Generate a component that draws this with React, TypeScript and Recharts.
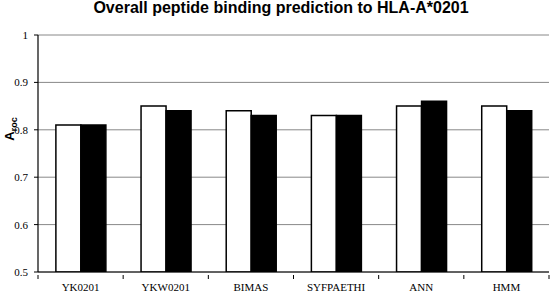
import { BarChart, Bar, XAxis, YAxis, CartesianGrid } from "recharts";

const categories = ["YK0201", "YKW0201", "BIMAS", "SYFPAETHI", "ANN", "HMM"];
const seriesOpen = [0.81, 0.85, 0.84, 0.83, 0.85, 0.85];
const seriesFilled = [0.81, 0.84, 0.83, 0.83, 0.86, 0.84];
const yTicks = [0.5, 0.6, 0.7, 0.8, 0.9, 1];

const W = 552;
const H = 294;
const LEFT = 38;
const RIGHT = 3;
const BAND = (W - LEFT - RIGHT) / categories.length;
const SERIF = "'Liberation Serif', 'Times New Roman', serif";
const SANS = "'Liberation Sans', Arial, sans-serif";

const data = categories.map((name, i) => ({
  name,
  open: seriesOpen[i],
  filled: seriesFilled[i],
}));

function CategoryTick(props: any) {
  const { x, y, payload, index } = props;
  const last = index === categories.length - 1;
  return (
    <g>
      <line x1={x - BAND / 2} x2={x - BAND / 2} y1={y - 5} y2={y - 1} stroke="#000" />
      {last && (
        <line x1={x + BAND / 2} x2={x + BAND / 2} y1={y - 5} y2={y - 1} stroke="#000" />
      )}
      <text
        x={x}
        y={y + 11}
        textAnchor="middle"
        fontFamily={SERIF}
        fontSize={11}
        fill="#000"
      >
        {payload.value}
      </text>
    </g>
  );
}

function ValueTick(props: any) {
  const { x, y, payload } = props;
  return (
    <text
      x={x}
      y={y + 4}
      textAnchor="end"
      fontFamily={SERIF}
      fontSize={11}
      fill="#000"
    >
      {String(payload.value)}
    </text>
  );
}

function AxisLabel() {
  return (
    <text
      transform="translate(14, 129) rotate(-90)"
      textAnchor="middle"
      fontFamily={SANS}
      fontWeight="bold"
      fontSize={13}
      fill="#000"
    >
      A
      <tspan fontSize={9} dy={3}>
        roc
      </tspan>
    </text>
  );
}

export default function App() {
  return (
    <div style={{ position: "absolute", left: 0, top: 0, width: W, height: H, background: "#fff" }}>
      <div
        style={{
          position: "absolute",
          left: 0,
          top: -1,
          width: 562,
          textAlign: "center",
          fontFamily: SANS,
          fontWeight: "bold",
          fontSize: 16,
          lineHeight: "18px",
        }}
      >
        Overall peptide binding prediction to HLA-A*0201
      </div>
      <BarChart
        width={W}
        height={H}
        data={data}
        margin={{ top: 35, right: RIGHT, left: 0, bottom: 0 }}
        barCategoryGap="21%"
        barGap={0}
      >
        <CartesianGrid vertical={false} stroke="#888" strokeWidth={1} />
        <XAxis
          dataKey="name"
          height={22}
          axisLine={{ stroke: "#000", strokeWidth: 1.2 }}
          tickLine={false}
          tick={<CategoryTick />}
          interval={0}
        />
        <YAxis
          width={LEFT}
          domain={[0.5, 1]}
          ticks={yTicks}
          interval={0}
          allowDataOverflow
          axisLine={{ stroke: "#000", strokeWidth: 1.2 }}
          tickLine={{ stroke: "#000" }}
          tickSize={4}
          tickMargin={6}
          tick={<ValueTick />}
          label={<AxisLabel />}
        />
        <YAxis
          yAxisId="frame"
          orientation="right"
          width={0}
          tick={false}
          tickLine={false}
          axisLine={{ stroke: "#000", strokeWidth: 1.2 }}
        />
        <Bar dataKey="open" fill="#fff" stroke="#000" strokeWidth={1.5} isAnimationActive={false} />
        <Bar dataKey="filled" fill="#000" stroke="#000" strokeWidth={1.5} isAnimationActive={false} />
      </BarChart>
    </div>
  );
}
